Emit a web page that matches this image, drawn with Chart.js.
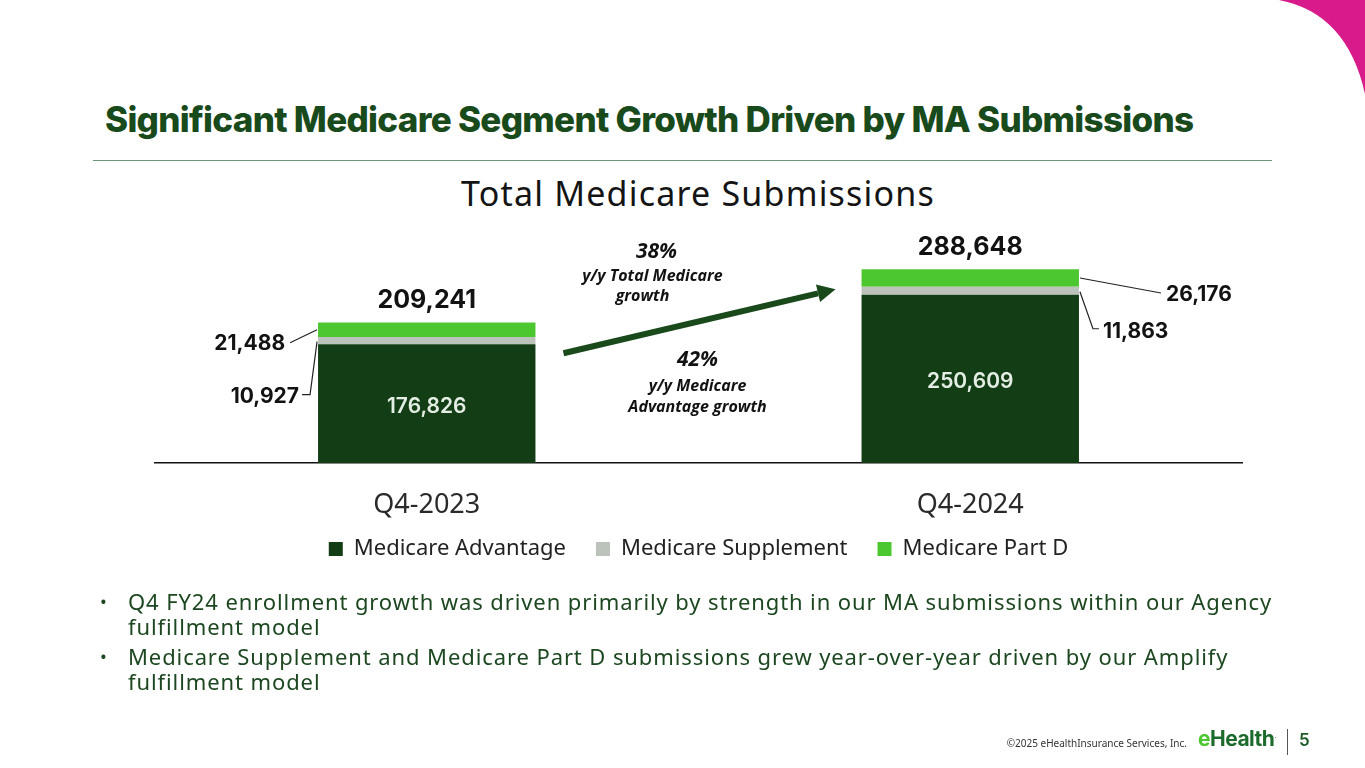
<!DOCTYPE html>
<html>
<head>
<meta charset="utf-8">
<script src="https://cdn.jsdelivr.net/npm/chart.js@4.4.1/dist/chart.umd.min.js"></script>
<style>
  body { margin:0; background:#fff; }
  #slide { position:relative; width:1365px; height:768px; overflow:hidden; background:#fff; font-family:"Noto Sans", sans-serif; }
  #chart { position:absolute; left:0; top:0; }
  .title { position:absolute; left:105px; top:98px; font-family:Inter, sans-serif; font-weight:800; font-size:35px; letter-spacing:-0.7px; color:#184a1c; white-space:nowrap; }
  .rule { position:absolute; left:93px; top:160px; width:1179px; height:1px; background:#6f9776; }
  .ctitle { position:absolute; left:0; width:1396px; top:170px; text-align:center; font-family:"Noto Sans", sans-serif; font-size:34px; color:#141414; letter-spacing:1.2px; }
  ul { position:absolute; left:100px; top:589px; margin:0; padding:0; list-style:none; width:1200px; font-family:"Noto Sans", sans-serif; font-size:22px; line-height:25px; letter-spacing:0.9px; color:#1c4720; white-space:nowrap; }
  li { position:relative; padding-left:28px; margin-bottom:5px; }
  li:before { content:"\2022"; position:absolute; left:0; top:0; font-size:18px; }
  .foot { position:absolute; top:736px; right:178px; font-size:10px; color:#333; font-family:"Noto Sans", sans-serif; }
  .logo { position:absolute; left:1198px; top:726px; font-family:Inter, sans-serif; font-weight:700; font-size:21px; letter-spacing:-0.5px; color:#1d6b2c; }
  .logo span { color:#4cc72f; }
  .sep { position:absolute; left:1287px; top:729px; width:1px; height:26px; background:#555; }
  .page { position:absolute; left:1299px; top:730px; font-family:Inter, sans-serif; font-size:17px; font-weight:600; color:#1d5a26; }
  svg { position:absolute; left:0; top:0; }
</style>
</head>
<body>
<div id="slide">
  <svg width="1365" height="768"><path d="M1279,0 Q1347,13 1365,94 L1365,0 Z" fill="#d81b8b"/></svg>
  <div class="title">Significant Medicare Segment Growth Driven by MA Submissions</div>
  <div class="rule"></div>
  <div class="ctitle">Total Medicare Submissions</div>
  <canvas id="chart" width="1365" height="768"></canvas>
  <ul>
    <li>Q4 FY24 enrollment growth was driven primarily by strength in our MA submissions within our Agency<br>fulfillment model</li>
    <li>Medicare Supplement and Medicare Part D submissions grew year-over-year driven by our Amplify<br>fulfillment model</li>
  </ul>
  <div class="foot">©2025 eHealthInsurance Services, Inc.</div>
  <div class="logo"><span>e</span>Health<sup style="font-size:6px">.</sup></div>
  <div class="sep"></div>
  <div class="page">5</div>
</div>
<script>
// chart data
const quarters = ['Q4-2023', 'Q4-2024'];
const advantage = [176826, 250609];
const supplement = [10927, 11863];
const partD = [21488, 26176];
const totals = [209241, 288648];
const growthTotal = '38%';
const growthMA = '42%';

const fmt = v => v.toLocaleString('en-US');

// labels, leader lines and the growth arrow
const notes = {
  id: 'notes',
  afterDatasetsDraw(chart) {
    const ctx = chart.ctx;
    const area = chart.chartArea;
    const ys = chart.scales.y;
    const adv = chart.getDatasetMeta(0).data;
    const sup = chart.getDatasetMeta(1).data;
    const pd = chart.getDatasetMeta(2).data;
    ctx.save();
    ctx.textBaseline = 'middle';

    // totals on top
    ctx.fillStyle = '#121212';
    ctx.font = '700 25px Inter';
    ctx.textAlign = 'center';
    pd.forEach((b, i) => ctx.fillText(fmt(totals[i]), b.x, b.y - 22));

    // MA value inside the bar
    ctx.fillStyle = '#e4eee4';
    ctx.font = '600 21px Inter';
    adv.forEach((b, i) => ctx.fillText(fmt(advantage[i]), b.x, (b.y + b.base) / 2 + 3));

    ctx.strokeStyle = '#222';
    ctx.lineWidth = 1.2;
    ctx.fillStyle = '#121212';
    ctx.font = '700 21px Inter';

    // left bar leaders
    let L = adv[0].x - adv[0].width / 2;
    let pdMid = (pd[0].y + pd[0].base) / 2;
    let supMid = (sup[0].y + sup[0].base) / 2;
    ctx.beginPath();
    ctx.moveTo(L - 28, pdMid + 13); ctx.lineTo(L - 1, pdMid);
    ctx.moveTo(L - 16, supMid + 54); ctx.lineTo(L - 8, supMid + 54); ctx.lineTo(L - 1, supMid + 1);
    ctx.stroke();
    ctx.textAlign = 'right';
    ctx.fillText(fmt(partD[0]), L - 33, pdMid + 14);
    ctx.fillText(fmt(supplement[0]), L - 19, supMid + 56);

    // right bar leaders
    let R = adv[1].x + adv[1].width / 2;
    pdMid = (pd[1].y + pd[1].base) / 2;
    supMid = (sup[1].y + sup[1].base) / 2;
    ctx.beginPath();
    ctx.moveTo(R + 1, pdMid); ctx.lineTo(R + 82, pdMid + 15);
    ctx.moveTo(R + 1, supMid + 1); ctx.lineTo(R + 14, supMid + 38); ctx.lineTo(R + 20, supMid + 38);
    ctx.stroke();
    ctx.textAlign = 'left';
    ctx.fillText(fmt(partD[1]), R + 87, pdMid + 17);
    ctx.fillText(fmt(supplement[1]), R + 24, supMid + 41);

    // growth arrow
    const x0 = adv[0].x + adv[0].width / 2 + 28, y0 = ys.getPixelForValue(advantage[0]) + 9;
    const x1 = adv[1].x - adv[1].width / 2 - 26, y1 = ys.getPixelForValue(totals[1]) + 20;
    const ang = Math.atan2(y1 - y0, x1 - x0);
    const head = 18;
    ctx.strokeStyle = '#1a4a1c';
    ctx.fillStyle = '#1a4a1c';
    ctx.lineWidth = 6;
    ctx.beginPath();
    ctx.moveTo(x0, y0);
    ctx.lineTo(x1 - head * Math.cos(ang), y1 - head * Math.sin(ang));
    ctx.stroke();
    ctx.beginPath();
    ctx.moveTo(x1, y1);
    ctx.lineTo(x1 - head * Math.cos(ang) + 9 * Math.sin(ang), y1 - head * Math.sin(ang) - 9 * Math.cos(ang));
    ctx.lineTo(x1 - head * Math.cos(ang) - 9 * Math.sin(ang), y1 - head * Math.sin(ang) + 9 * Math.cos(ang));
    ctx.closePath();
    ctx.fill();

    // growth notes
    const mid = (adv[0].x + adv[1].x) / 2;
    ctx.fillStyle = '#121212';
    ctx.textAlign = 'center';
    ctx.font = 'italic 700 21px "Open Sans"';
    ctx.fillText(growthTotal, mid - 42, area.top + 24);
    ctx.fillText(growthMA, mid - 1, area.top + 132);
    ctx.font = 'italic 700 16px "Open Sans"';
    ctx.fillText('y/y Total Medicare', mid - 46, area.top + 48);
    ctx.fillText('growth', mid - 56, area.top + 68);
    ctx.fillText('y/y Medicare', mid - 1, area.top + 158);
    ctx.fillText('Advantage growth', mid - 1, area.top + 179);
    ctx.restore();
  }
};

const data = {
  labels: quarters,
  datasets: [
    { label: 'Medicare Advantage', data: advantage, backgroundColor: '#123d15' },
    { label: 'Medicare Supplement', data: supplement, backgroundColor: '#bcc3ba' },
    { label: 'Medicare Part D', data: partD, backgroundColor: '#4cc72f' }
  ]
};

const config = {
  type: 'bar',
  data: data,
  options: {
    responsive: false,
    animation: false,
    layout: { padding: { top: 228, left: 155, right: 123, bottom: 198 } },
    datasets: { bar: { categoryPercentage: 0.5, barPercentage: 0.8 } },
    scales: {
      x: {
        stacked: true,
        grid: { display: false },
        border: { display: true, color: '#111', width: 1.5 },
        // mirrored with negative padding = labels below the line, no clipping
        ticks: { color: '#2a2a2a', mirror: true, padding: -59, font: { family: 'Noto Sans', size: 27 } },
        // keep the axis block short so the legend sits close under the labels
        afterFit: s => { s.height = 45; }
      },
      y: { stacked: true, display: false, min: 0, max: 350000 }
    },
    plugins: {
      tooltip: { enabled: false },
      legend: {
        position: 'bottom',
        labels: { color: '#222', boxWidth: 14, boxHeight: 14, padding: 30, font: { family: 'Noto Sans', size: 22 } }
      }
    }
  },
  plugins: [notes]
};

new Chart(document.getElementById('chart'), config);
</script>
</body>
</html>
